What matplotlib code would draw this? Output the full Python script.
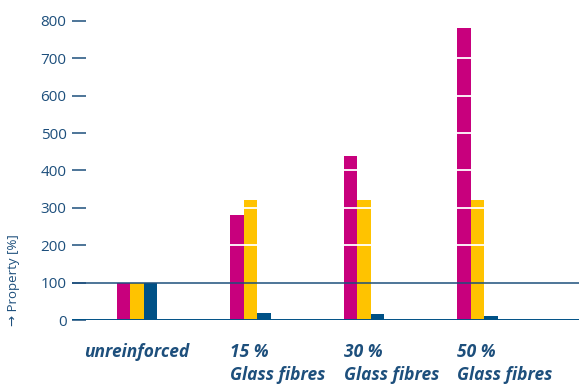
import matplotlib
matplotlib.use("Agg")
import matplotlib.pyplot as plt
import numpy as np

groups = ["unreinforced", "15 %\nGlass fibres", "30 %\nGlass fibres", "50 %\nGlass fibres"]
series_a = [100, 280, 440, 780]   # magenta
series_b = [100, 320, 320, 320]   # yellow
series_c = [100, 20, 15, 10]      # dark blue
yticks = [0, 100, 200, 300, 400, 500, 600, 700, 800]

MAG = "#c8007d"
YEL = "#ffc300"
BLU = "#005186"
TXT = "#1d4f7c"

plt.rcParams['font.family'] = ['Open Sans', 'DejaVu Sans']

fig = plt.figure(figsize=(5.79, 3.85), dpi=100)
W, H = 579, 385
ax = fig.add_axes([72 / W, (385 - 320) / H, (579 - 72) / W, (320 - 13.5) / H])

x = np.arange(len(groups))
bw = 0.119
ax.bar(x - bw, series_a, width=bw, color=MAG, zorder=2)
ax.bar(x, series_b, width=bw, color=YEL, zorder=2)
ax.bar(x + bw, series_c, width=bw, color=BLU, zorder=2)

ax.hlines(yticks[2:], -0.35, 3.894, color="white", lw=1.3, zorder=3)
ax.axhline(100, color=TXT, lw=1.1, zorder=4)
ax.axhline(0, color=BLU, lw=1.4, zorder=4)

ax.set_xlim(-0.573, 3.894)
ax.set_ylim(0, 820)
ax.set_yticks(yticks)
ax.set_yticklabels([str(v) for v in yticks])
ax.tick_params(axis='y', direction='in', length=10, width=1.1, color=TXT,
               labelcolor=TXT, labelsize=11, pad=4)
ax.set_xticks([])
for s in ax.spines.values():
    s.set_visible(False)

# category labels
fs = 12.5
ax.text(0, -86, groups[0], ha='center', va='center', fontsize=fs,
        fontweight='bold', style='italic', color=TXT)
for i in range(1, len(groups)):
    top, bottom = groups[i].split("\n")
    ax.text(i - 1.5 * bw, -86, top, ha='left', va='center', fontsize=fs,
            fontweight='bold', style='italic', color=TXT)
    ax.text(i - 1.5 * bw, -147, bottom, ha='left', va='center', fontsize=fs,
            fontweight='bold', style='italic', color=TXT)

fig.text(14 / W, (385 - 326) / H, "→ Property [%]", rotation=90, ha='center',
         va='bottom', fontsize=9.5, color=TXT)

fig.savefig("out.png", dpi=100)
